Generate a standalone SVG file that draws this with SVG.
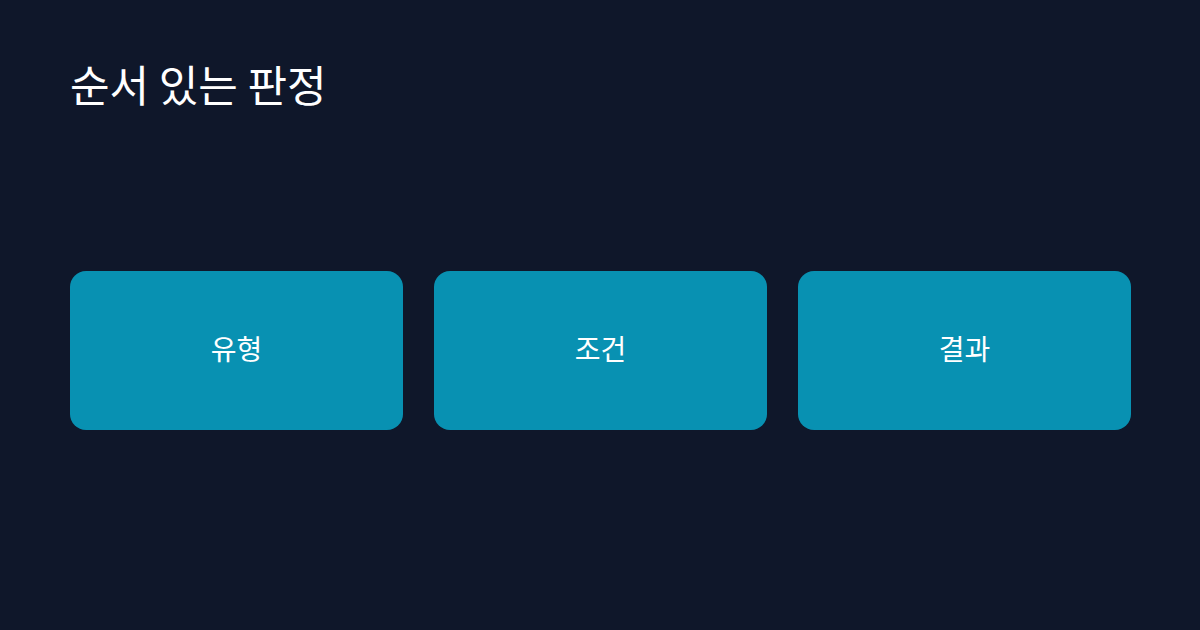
<svg xmlns="http://www.w3.org/2000/svg" width="1200" height="630" viewBox="0 0 1200 630">
<style>
.bg{fill:#0f172a}
.title{font-family:"Noto Sans CJK KR","Noto Sans",sans-serif;font-size:43px;font-weight:400;fill:#ffffff}
.box{fill:#0891b2}
.label{font-family:"Noto Sans CJK KR","Noto Sans",sans-serif;font-size:28px;font-weight:400;fill:#ffffff;text-anchor:middle}
</style>
<rect class="bg" x="0" y="0" width="1200" height="630"/>
<text class="title" x="70" y="102">순서 있는 판정</text>
<g id="connectors"></g>
<g id="node-type">
<rect class="box" x="70" y="271" width="333" height="159" rx="16"/>
<text class="label" x="236.5" y="360">유형</text>
</g>
<g id="node-condition">
<rect class="box" x="434" y="271" width="333" height="159" rx="16"/>
<text class="label" x="600.5" y="360">조건</text>
</g>
<g id="node-result">
<rect class="box" x="798" y="271" width="333" height="159" rx="16"/>
<text class="label" x="964.5" y="360">결과</text>
</g>
</svg>
